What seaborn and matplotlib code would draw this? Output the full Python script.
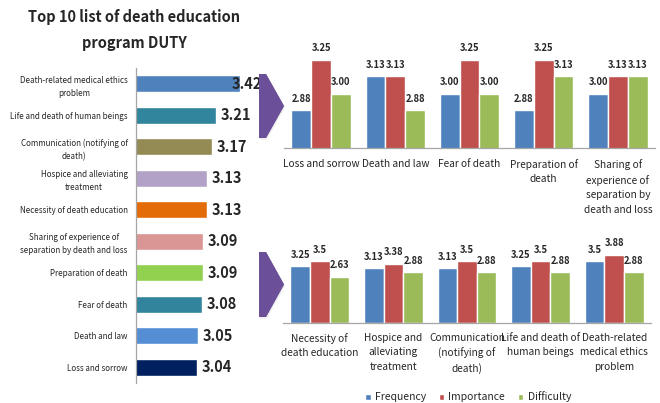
import numpy as np
import pandas as pd
import matplotlib.pyplot as plt
import seaborn as sns
from matplotlib.patches import Polygon
from matplotlib.colors import LinearSegmentedColormap

sns.set_style("white")
plt.rcParams['font.family'] = ['Noto Sans CJK KR', 'DejaVu Sans']

# ranking of duties (left chart)
duty_items = ["Death-related medical ethics\nproblem", "Life and death of human beings",
              "Communication (notifying of\ndeath)", "Hospice and alleviating\ntreatment",
              "Necessity of death education", "Sharing of experience of\nseparation by death and loss",
              "Preparation of death", "Fear of death", "Death and law", "Loss and sorrow"]
duty_scores = [3.42, 3.21, 3.17, 3.13, 3.13, 3.09, 3.09, 3.08, 3.05, 3.04]
duty_colors = ["#4F81BD", "#31859C", "#948A54", "#B3A2C7", "#E36C09",
               "#D99694", "#92D050", "#31849B", "#558ED5", "#002060"]

# lower-ranked five items (top right)
top_items = ["Loss and sorrow", "Death and law", "Fear of death", "Preparation of\ndeath",
             "Sharing of\nexperience of\nseparation by\ndeath and loss"]
top_freq = [2.88, 3.13, 3.00, 2.88, 3.00]
top_imp = [3.25, 3.13, 3.25, 3.25, 3.13]
top_diff = [3.00, 2.88, 3.00, 3.13, 3.13]

# higher-ranked five items (bottom right)
bottom_items = ["Necessity of\ndeath education", "Hospice and\nalleviating\ntreatment",
                "Communication\n(notifying of\ndeath)", "Life and death of\nhuman beings",
                "Death-related\nmedical ethics\nproblem"]
bottom_freq = [3.25, 3.13, 3.13, 3.25, 3.5]
bottom_imp = [3.5, 3.38, 3.5, 3.5, 3.88]
bottom_diff = [2.63, 2.88, 2.88, 2.88, 2.88]

metrics = ["Frequency", "Importance", "Difficulty"]
metric_colors = ["#4F81BD", "#C0504D", "#9BBB59"]

W, H = 660, 403


def box(x0, y0, x1, y1):
    return [x0 / W, 1 - y1 / H, (x1 - x0) / W, (y1 - y0) / H]


fig = plt.figure(figsize=(6.6, 4.03), dpi=100)

fig.text(134 / W, 1 - 30 / H, "Top 10 list of death education\nprogram DUTY",
         ha='center', va='center', fontsize=10.5, fontweight='bold', linespacing=1.7)

# left horizontal bars
ax = fig.add_axes(box(136, 68, 249, 383))
df_duty = pd.DataFrame({'item': duty_items, 'score': duty_scores})
sns.barplot(data=df_duty, x='score', y='item', hue='item', palette=duty_colors,
            saturation=1, legend=False, width=0.54, orient='h', ax=ax)
ax.set_xlim(2.5, 3.5)
ax.set_ylim(9.5, -0.5)
for i, v in enumerate(duty_scores):
    ax.text(min(v + 0.043, 3.35), i, f"{v:.2f}", ha='left', va='center',
            fontsize=10.5, fontweight='bold', clip_on=False)
ax.set_xlabel('')
ax.set_ylabel('')
ax.set_xticks([])
ax.tick_params(axis='y', length=0, pad=6, labelsize=5.8)
for lab in ax.get_yticklabels():
    lab.set_multialignment('center')
    lab.set_linespacing(1.6)
for s in ['top', 'right', 'bottom']:
    ax.spines[s].set_visible(False)
ax.spines['left'].set_color('#A6A6A6')
ax.spines['left'].set_linewidth(0.9)


def grouped(rect, items, freq, imp, diff, ylim, fmt, pad):
    a = fig.add_axes(rect)
    df = pd.DataFrame({'item': items * 3,
                       'metric': np.repeat(metrics, len(items)),
                       'value': freq + imp + diff})
    sns.barplot(data=df, x='item', y='value', hue='metric', palette=metric_colors,
                saturation=1, width=0.8, ax=a)
    a.set_ylim(*ylim)
    a.set_xlim(-0.5, len(items) - 0.5)
    for cont, vals in zip(a.containers, [freq, imp, diff]):
        a.bar_label(cont, labels=[fmt(v) for v in vals], padding=4.5,
                    fontsize=6.8, fontweight='bold')
    a.set_xlabel('')
    a.set_ylabel('')
    a.set_yticks([])
    a.tick_params(axis='x', length=0, pad=pad, labelsize=7.3)
    for lab in a.get_xticklabels():
        lab.set_linespacing(1.55)
    for s in ['top', 'right', 'left']:
        a.spines[s].set_visible(False)
    a.spines['bottom'].set_color('#A6A6A6')
    a.spines['bottom'].set_linewidth(0.9)
    return a


ax_top = grouped(box(284, 40, 655, 148), top_items, top_freq, top_imp, top_diff,
                 (2.6, 2.6 + 108 / 136), lambda v: f"{v:.2f}", 8)
ax_top.get_legend().remove()

ax_bot = grouped(box(283, 249, 651, 323), bottom_items, bottom_freq, bottom_imp, bottom_diff,
                 (0, 74 / 17.6), lambda v: f"{v:g}", 7)
handles, labels = ax_bot.get_legend_handles_labels()
ax_bot.get_legend().remove()
fig.legend(handles, labels, loc='center', bbox_to_anchor=(468 / W, 1 - 397 / H), ncol=3,
           frameon=False, fontsize=7.5, handlelength=0.55, handleheight=0.55,
           handletextpad=0.4, columnspacing=1.2)

# purple chevrons between the panels
purple = LinearSegmentedColormap.from_list('pp', ['#7F5FAD', '#553978'])


def chevron(y0, y1):
    a = fig.add_axes(box(254, y0 - 2, 292, y1 + 4))
    a.set_xlim(254, 292)
    a.set_ylim(y1 + 4, y0 - 2)
    a.axis('off')
    mid = (y0 + y1) / 2
    pts = [(259, y0), (266, y0), (284, mid), (266, y1), (259, y1)]
    shadow = Polygon([(x + 1, y + 1.5) for x, y in pts], closed=True,
                     facecolor='#BBBBBB', edgecolor='none', alpha=0.25)
    a.add_patch(shadow)
    a.add_patch(Polygon(pts, closed=True, facecolor='#6B4F98', edgecolor='none'))
    grad = np.linspace(0, 1, 100).reshape(-1, 1)
    im = a.imshow(grad, cmap=purple, extent=(259, 284, y1, y0), aspect='auto',
                  interpolation='bilinear')
    poly = Polygon(pts, closed=True, facecolor='none', edgecolor='none')
    a.add_patch(poly)
    im.set_clip_path(poly)
    a.set_xlim(254, 292)
    a.set_ylim(y1 + 4, y0 - 2)


chevron(74, 138)
chevron(252, 317)

fig.savefig("out.png", dpi=100)
